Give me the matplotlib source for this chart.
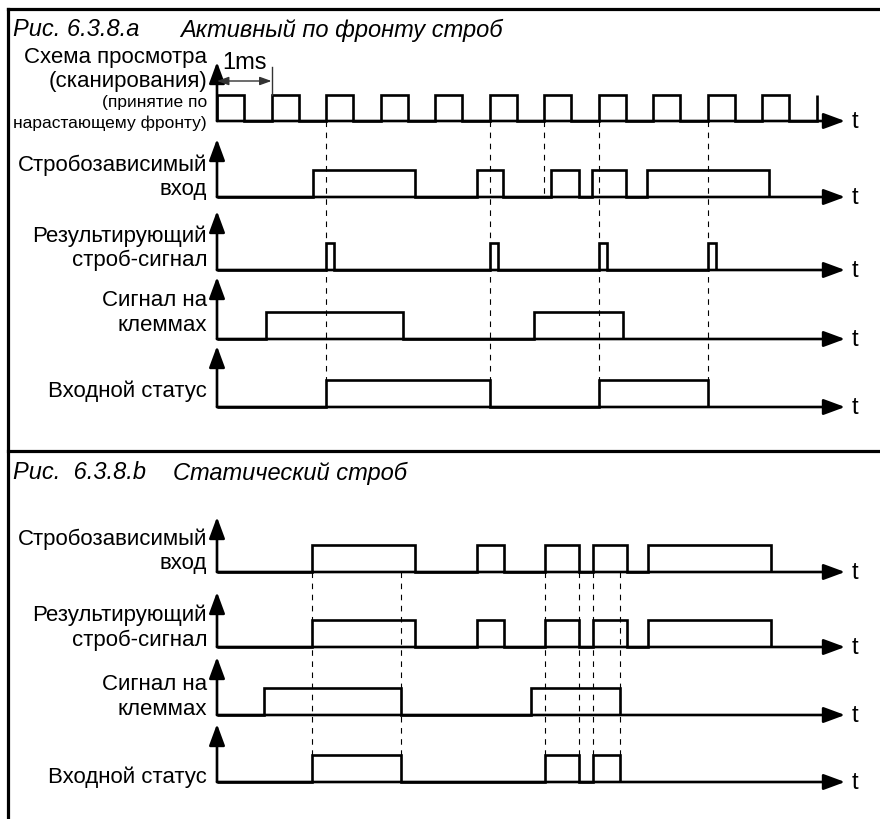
import matplotlib
matplotlib.use("Agg")
import matplotlib.pyplot as plt

plt.rcParams['font.family'] = ['Liberation Sans', 'DejaVu Sans']

W, H = 880, 820          # taille de l'image [px]
T0_PX, MS_PX = 217, 54.5 # position de t=0 et largeur d'1 ms [px]

# ---- Données : instants des fronts [ms] ----
# Рис. 6.3.8.a
clock_on = [0, 1, 2, 3, 4, 5, 6, 7, 8, 9, 10, 11]
clock_off = [0.5, 1.5, 2.5, 3.5, 4.5, 5.5, 6.5, 7.5, 8.5, 9.5, 10.5]
a_strobe_on = [1.76, 4.77, 6.13, 6.88, 7.89]
a_strobe_off = [3.63, 5.25, 6.64, 7.50, 10.13]
a_result_on = [2, 5, 7, 9]
a_result_off = [2.15, 5.15, 7.15, 9.15]
a_term_on = [0.90, 5.82]
a_term_off = [3.41, 7.45]
a_status_on = [2, 7]
a_status_off = [5, 9]
a_marks_long = [2, 5, 7, 9]
a_marks_short = [6]

# Рис. 6.3.8.b
b_strobe_on = [1.74, 4.77, 6.02, 6.90, 7.91]
b_strobe_off = [3.63, 5.27, 6.64, 7.52, 10.17]
b_result_on = [1.74, 4.77, 6.02, 6.90, 7.91]
b_result_off = [3.63, 5.27, 6.64, 7.52, 10.17]
b_term_on = [0.86, 5.76]
b_term_off = [3.38, 7.39]
b_status_on = [1.74, 6.02, 6.90]
b_status_off = [3.38, 6.64, 7.39]
b_marks = [1.74, 3.38, 6.02, 6.64, 6.90, 7.39]

# ---- Mise en page (y en px) ----
a_base = [122, 198, 271, 340, 408]
a_tip = [63, 140, 212, 278, 347]
b_base = [573, 648, 716, 783]
b_tip = [518, 593, 658, 725]
HAUT = 27
T_END = (845 - T0_PX) / MS_PX

LW = 1.9
FS = 16     # étiquettes
FS_T = 17   # titres
fig = plt.figure(figsize=(W / 100, H / 100), dpi=100)
ax = fig.add_axes([0, 0, 1, 1])
ax.set_xlim(-T0_PX / MS_PX, (W - T0_PX) / MS_PX)
ax.set_ylim(H, 0)
ax.axis('off')


def fx(px):
    return px / W


def fy(py):
    return 1 - py / H


def axes_signal(base, tip):
    fleche = dict(arrowstyle="-|>,head_length=0.65,head_width=0.24",
                  lw=LW, color='k', mutation_scale=20, shrinkA=0, shrinkB=0)
    # axe du temps
    ax.annotate("", xy=(T_END, base), xytext=(0, base), arrowprops=fleche)
    # axe vertical
    ax.annotate("", xy=(0, tip), xytext=(0, base), arrowprops=fleche)
    ax.text(T_END + 0.12, base, "t", fontsize=FS + 1, ha='left', va='center')


def signal(on, off, base, h=HAUT):
    xs = [0]
    ys = [base]
    for i, s in enumerate(on):
        if i < len(off):
            e = off[i]
            xs += [s, s, e, e]
            ys += [base, base - h, base - h, base]
        else:  # front montant seul
            xs += [s, s]
            ys += [base, base - h]
    ax.plot(xs, ys, color='k', lw=LW, solid_joinstyle='miter', solid_capstyle='butt')


def pointilles(ts, y1, y2):
    for t in ts:
        ax.plot([t, t], [y1, y2], color='k', lw=0.8, linestyle=(0, (5, 5)))


def label(lignes):
    for txt, y, f in lignes:
        fig.text(fx(207), fy(y), txt, fontsize=f, ha='right', va='center')


# ---- cadre ----
cadre = dict(color='k', lw=2.3, transform=fig.transFigure)
fig.add_artist(plt.Line2D([fx(8), 1], [fy(10), fy(10)], **cadre))
fig.add_artist(plt.Line2D([fx(8), fx(8)], [fy(10), 0], **cadre))
fig.add_artist(plt.Line2D([fx(8), 1], [fy(452), fy(452)], **cadre))

# ---- Рис. 6.3.8.a ----
fig.text(fx(13), fy(30), "Рис. 6.3.8.a", fontsize=FS_T, style='italic', va='center')
fig.text(fx(180), fy(30), "Активный по фронту строб", fontsize=FS_T, style='italic', va='center')

pointilles(a_marks_long, a_base[0], a_base[4] - HAUT)
pointilles(a_marks_short, a_base[0], a_base[1])

for b, t in zip(a_base, a_tip):
    axes_signal(b, t)
signal(clock_on, clock_off, a_base[0], 26)
signal(a_strobe_on, a_strobe_off, a_base[1])
signal(a_result_on, a_result_off, a_base[2])
signal(a_term_on, a_term_off, a_base[3])
signal(a_status_on, a_status_off, a_base[4])

# repère 1 ms
ax.annotate("", xy=(1, 82), xytext=(0, 82),
            arrowprops=dict(arrowstyle="<|-|>,head_length=0.5,head_width=0.18",
                            lw=1, color='#333333', mutation_scale=14,
                            shrinkA=0, shrinkB=0))
ax.plot([1, 1], [68, a_base[0] - 26], color='#333333', lw=1)
ax.text(0.51, 63, "1ms", fontsize=FS + 1, ha='center', va='center')

label([("Схема просмотра", 58, FS), ("(сканирования)", 81, FS),
       ("(принятие по", 103, 12.5), ("нарастающему фронту)", 123, 12.5)])
label([("Стробозависимый", 165, FS), ("вход", 189, FS)])
label([("Результирующий", 236, FS), ("строб-сигнал", 260, FS)])
label([("Сигнал на", 301, FS), ("клеммах", 326, FS)])
label([("Входной статус", 391, FS)])

# ---- Рис. 6.3.8.b ----
fig.text(fx(13), fy(473), "Рис.  6.3.8.b", fontsize=FS_T, style='italic', va='center')
fig.text(fx(173), fy(473), "Статический строб", fontsize=FS_T, style='italic', va='center')

pointilles(b_marks, b_base[0], b_base[3] - HAUT)

for b, t in zip(b_base, b_tip):
    axes_signal(b, t)
signal(b_strobe_on, b_strobe_off, b_base[0])
signal(b_result_on, b_result_off, b_base[1])
signal(b_term_on, b_term_off, b_base[2])
signal(b_status_on, b_status_off, b_base[3])

label([("Стробозависимый", 539, FS), ("вход", 564, FS)])
label([("Результирующий", 615, FS), ("строб-сигнал", 640, FS)])
label([("Сигнал на", 685, FS), ("клеммах", 710, FS)])
label([("Входной статус", 777, FS)])

fig.savefig("out.png", dpi=100)
